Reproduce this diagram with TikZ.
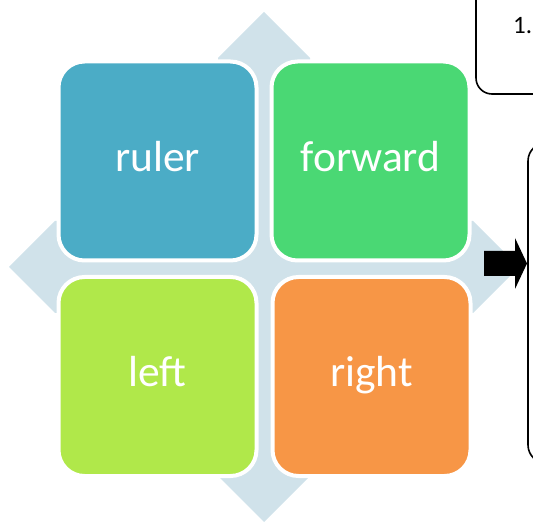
\documentclass[tikz,border=0pt]{standalone}
\usepackage{fontspec}
\setmainfont{Carlito}
\definecolor{crossc}{HTML}{D0E2EA}
\definecolor{rulerc}{HTML}{4BACC6}
\definecolor{forwc}{HTML}{4AD874}
\definecolor{leftc}{HTML}{B0E84A}
\definecolor{rightc}{HTML}{F79646}
\begin{document}
\begin{tikzpicture}[x=1pt,y=-1pt,
  tile/.style={rectangle, rounded corners=26pt, draw=white, line width=4pt,
    minimum width=198pt, minimum height=199pt, inner sep=0pt,
    text=white, font=\fontsize{43.5}{50}\selectfont,
    text height=30pt, text depth=9pt},
  note/.style={draw=black, line width=1.6pt, rounded corners=16pt}]
\useasboundingbox (0,0) rectangle (533,529);
% background cross of arrows
\fill[crossc] (264,12) -- (310,58) -- (310,221) -- (473,221) -- (519,267)
  -- (473,313) -- (310,313) -- (310,476) -- (264,522) -- (218,476)
  -- (218,313) -- (55,313) -- (9,267) -- (55,221) -- (218,221)
  -- (218,58) -- cycle;
% tiles
\node[tile, fill=rulerc] (ruler) at (157.5,161) {ruler};
\node[tile, fill=forwc] (forward) at (370.5,161) {forward};
\node[tile, fill=leftc] (left) at (157.5,376.5) {left};
\node[tile, fill=rightc] (right) at (371.5,376.5) {right};
% note boxes
\draw[note] (476,-20) rectangle (570,94);
\node[anchor=base west, inner sep=0pt, font=\fontsize{25}{30}\selectfont] (one) at (513,34) {1.};
\draw[note, rounded corners=18pt] (528,143) rectangle (570,463);
% block arrow
\fill[black] (484,251) -- (515,251) -- (515,238) -- (527,263.5) -- (515,289)
  -- (515,276) -- (484,276) -- cycle;
\end{tikzpicture}
\end{document}
